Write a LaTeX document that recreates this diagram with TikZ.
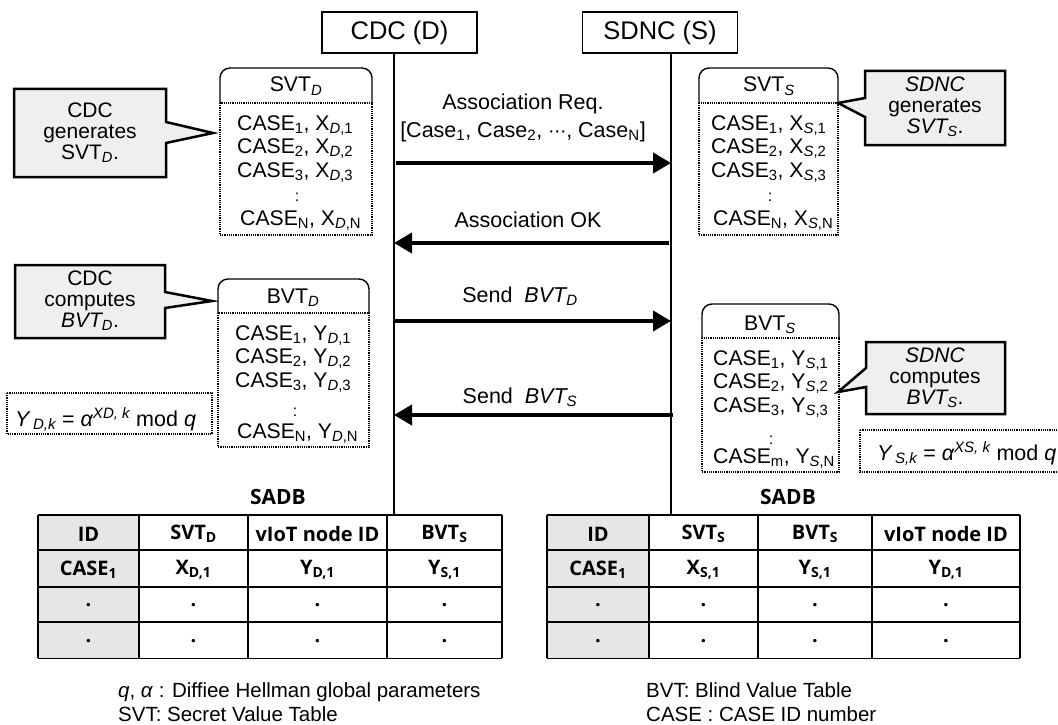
\documentclass[tikz,border=0pt]{standalone}
\usepackage{fontspec}
\setmainfont{Liberation Sans}
\newfontfamily\tabfont{Open Sans}
\newfontfamily\symfont{DejaVu Sans}
\usetikzlibrary{arrows.meta}
\newcommand\mysub[1]{\textsubscript{#1}}
\newcommand\mysup[1]{\textsuperscript{#1}}
\definecolor{callfill}{HTML}{EFEFEF}
\definecolor{tabgray}{HTML}{E6E6E6}
\begin{document}
\begin{tikzpicture}[x=1pt,y=-1pt,
  actor/.style={draw, line width=1.3pt, minimum width=155pt, minimum height=41pt, inner sep=0pt, font=\fontsize{25.5}{27}\selectfont},
  life/.style={line width=1.8pt},
  msg/.style={line width=4pt, -{Triangle[length=18pt,width=20pt]}},
  item/.style={anchor=base west, inner sep=0pt, font=\fontsize{21.2}{22}\selectfont},
  hdr/.style={anchor=base, inner sep=0pt, font=\fontsize{21.2}{22}\selectfont},
  vdots/.style={inner sep=0pt, font=\fontsize{16}{16}\selectfont},
  lbl/.style={anchor=base, inner sep=0pt, font=\fontsize{21.5}{22}\selectfont},
  calltxt/.style={align=center, inner sep=0pt, font=\fontsize{21}{21}\selectfont},
  callout/.style={draw, fill=callfill, line width=2.5pt, line join=miter},
  hdrbox/.style={draw, line width=1.4pt, rounded corners=10pt},
  body/.style={draw, line width=1.2pt, densely dotted},
  formula/.style={anchor=base west, inner sep=0pt, font=\fontsize{21.5}{22}\selectfont},
  tline/.style={line width=2pt},
  tcell/.style={inner sep=0pt, font=\tabfont\bfseries\fontsize{20}{22}\selectfont},
  foot/.style={anchor=base west, inner sep=0pt, font=\fontsize{20.5}{22}\selectfont},
  sadb/.style={inner sep=0pt, font=\tabfont\bfseries\fontsize{21}{22}\selectfont}
]
\useasboundingbox (0,0) rectangle (1058,725);

% actors
\node[actor] (cdc) at (399.5,32.5) {CDC (D)};
\node[actor] (sdnc) at (660,32.5) {SDNC (S)};
\coordinate (dtop) at (394,53);
\coordinate (dbot) at (394,514);
\coordinate (stop) at (671,53);
\coordinate (sbot) at (671,514);
\draw[life] (dtop) -- (dbot);
\draw[life] (stop) -- (sbot);

% messages
\coordinate (m1d) at (396,163); \coordinate (m1s) at (671,163);
\coordinate (m2d) at (394,243); \coordinate (m2s) at (669,243);
\coordinate (m3d) at (394,321); \coordinate (m3s) at (671,321);
\coordinate (m4d) at (394,415); \coordinate (m4s) at (673,415);
\draw[msg] (m1d) -- (m1s);
\draw[msg] (m2s) -- (m2d);
\draw[msg] (m3d) -- (m3s);
\draw[msg] (m4s) -- (m4d);
\node[lbl] (l1a) at (523,110) {Association Req.};
\node[lbl] (l1b) at (523,137) {[Case\mysub{1}, Case\mysub{2}, {\symfont\fontsize{18}{20}\selectfont ⋯}, Case\mysub{N}]};
\node[lbl] (l2) at (528,227) {Association OK};
\node[lbl] (l3) at (520,302) {Send\ \ \textit{BVT\mysub{D}}};
\node[lbl] (l4) at (520,403) {Send\ \ \textit{BVT\mysub{S}}};

% SVT_D table
\draw[hdrbox] (220,103) -- (220,68) -- (372,68) -- (372,103);
\draw[body] (220,103) rectangle (372,235);
\node[hdr] (svtdh) at (296,92) {SVT\mysub{\textit{D}}};
\node[item] (svtd1) at (237,130) {CASE\mysub{1}, X\mysub{\textit{D},1}};
\node[item] (svtd2) at (237,153) {CASE\mysub{2}, X\mysub{\textit{D},2}};
\node[item] (svtd3) at (237,177) {CASE\mysub{3}, X\mysub{\textit{D},3}};
\node[vdots] (svtdv) at (297,197) {:};
\node[item] (svtdn) at (240,225) {CASE\mysub{N}, X\mysub{\textit{D},N}};

% SVT_S table
\draw[hdrbox] (699,103) -- (699,68) -- (838,68) -- (838,103);
\draw[body] (699,103) rectangle (838,235);
\node[hdr] (svtsh) at (769,92) {SVT\mysub{\textit{S}}};
\node[item] (svts1) at (711,130) {CASE\mysub{1}, X\mysub{\textit{S},1}};
\node[item] (svts2) at (711,153) {CASE\mysub{2}, X\mysub{\textit{S},2}};
\node[item] (svts3) at (711,177) {CASE\mysub{3}, X\mysub{\textit{S},3}};
\node[vdots] (svtsv) at (770,197) {:};
\node[item] (svtsn) at (713,225) {CASE\mysub{N}, X\mysub{\textit{S},N}};

% BVT_D table
\draw[hdrbox] (218,313) -- (218,279) -- (369,279) -- (369,313);
\draw[body] (218,313) rectangle (369,447);
\node[hdr] (bvtdh) at (293,303) {BVT\mysub{\textit{D}}};
\node[item] (bvtd1) at (235,340) {CASE\mysub{1}, Y\mysub{\textit{D},1}};
\node[item] (bvtd2) at (235,363) {CASE\mysub{2}, Y\mysub{\textit{D},2}};
\node[item] (bvtd3) at (235,387) {CASE\mysub{3}, Y\mysub{\textit{D},3}};
\node[vdots] (bvtdv) at (295,412) {:};
\node[item] (bvtdn) at (237,438) {CASE\mysub{N}, Y\mysub{\textit{D},N}};

% BVT_S table
\draw[hdrbox] (702,338) -- (702,304) -- (839,304) -- (839,338);
\draw[body] (702,338) rectangle (839,472);
\node[hdr] (bvtsh) at (770,330) {BVT\mysub{\textit{S}}};
\node[item] (bvts1) at (713,365) {CASE\mysub{1}, Y\mysub{\textit{S},1}};
\node[item] (bvts2) at (713,388) {CASE\mysub{2}, Y\mysub{\textit{S},2}};
\node[item] (bvts3) at (713,412) {CASE\mysub{3}, Y\mysub{\textit{S},3}};
\node[vdots] (bvtsv) at (771,440) {:};
\node[item] (bvtsn) at (713,463) {CASE\mysub{m}, Y\mysub{\textit{S},N}};

% callouts
\draw[callout] (14,89) -- (166,89) -- (166,122) -- (213,133) -- (166,143) -- (166,177) -- (14,177) -- cycle;
\node[calltxt] (c1) at (90,133) {CDC\\generates\\SVT\mysub{\textit{D}}.};
\draw[callout] (15,265) -- (165,265) -- (165,292) -- (212,301) -- (165,308) -- (165,338) -- (15,338) -- cycle;
\node[calltxt] (c2) at (90,301) {CDC\\computes\\\textit{BVT\mysub{D}}.};
\draw[callout] (865,71) -- (1005,71) -- (1005,145) -- (865,145) -- (865,117) -- (838,103) -- (865,98) -- cycle;
\node[calltxt] (c3) at (935,107) {\textit{SDNC}\\generates\\\textit{SVT\mysub{S}}.};
\draw[callout] (866,342) -- (1005,342) -- (1005,414) -- (866,414) -- (866,387) -- (838,392) -- (866,368) -- cycle;
\node[calltxt] (c4) at (935,378) {\textit{SDNC}\\computes\\\textit{BVT\mysub{S}}.};

% formulas
\draw[body] (7,393) rectangle (212,434);
\node[formula] (fd) at (15,426) {\textit{Y\,\mysub{D,k}} = \textit{α\mysup{XD, k}} mod \textit{q}};
\draw[body] (860,430) rectangle (1064,472);
\node[formula] (fs) at (877,460) {\textit{Y\,\mysub{S,k}} = \textit{α\mysup{XS, k}} mod \textit{q}};

% SADB tables
\node[sadb] (sadbl) at (278,497) {SADB};
\node[sadb] (sadbr) at (788,497) {SADB};

\fill[tabgray] (38,515) rectangle (139,658);
\foreach \y in {515,550,587,622} \draw[tline] (38,\y) -- (502,\y);
\draw[line width=1pt] (38,658) -- (502,658);
\foreach \x in {38,139,248,387,502} \draw[tline] (\x,515) -- (\x,658);
\node[tcell] (ta1) at (88.5,534) {ID};
\node[tcell] (ta2) at (193.5,534) {SVT\textsubscript{D}};
\node[tcell] (ta3) at (317.5,534) {vIoT\ node\ ID};
\node[tcell] (ta4) at (444.5,534) {BVT\textsubscript{S}};
\node[tcell] (tb1) at (88.5,570) {CASE\textsubscript{1}};
\node[tcell] (tb2) at (193.5,570) {X\textsubscript{D,1}};
\node[tcell] (tb3) at (317.5,570) {Y\textsubscript{D,1}};
\node[tcell] (tb4) at (444.5,570) {Y\textsubscript{S,1}};
\foreach \x/\n in {88.5/1,193.5/2,317.5/3,444.5/4}{
  \node[tcell] (tc\n) at (\x,605) {.};
  \node[tcell] (td\n) at (\x,641) {.};
}

\fill[tabgray] (547,515) rectangle (649,658);
\foreach \y in {515,550,587,622} \draw[tline] (547,\y) -- (1020,\y);
\draw[line width=1pt] (547,658) -- (1020,658);
\foreach \x in {547,649,758,872,1020} \draw[tline] (\x,515) -- (\x,658);
\node[tcell] (ra1) at (598,534) {ID};
\node[tcell] (ra2) at (703.5,534) {SVT\textsubscript{S}};
\node[tcell] (ra3) at (815,534) {BVT\textsubscript{S}};
\node[tcell] (ra4) at (946,534) {vIoT\ node\ ID};
\node[tcell] (rb1) at (598,570) {CASE\textsubscript{1}};
\node[tcell] (rb2) at (703.5,570) {X\textsubscript{S,1}};
\node[tcell] (rb3) at (815,570) {Y\textsubscript{S,1}};
\node[tcell] (rb4) at (946,570) {Y\textsubscript{D,1}};
\foreach \x/\n in {598/1,703.5/2,815/3,946/4}{
  \node[tcell] (rc\n) at (\x,605) {.};
  \node[tcell] (rd\n) at (\x,641) {.};
}

% footnotes
\node[foot] (f1) at (118,697) {\textit{q}, \textit{α} : Diffiee Hellman global parameters};
\node[foot] (f2) at (118,721) {SVT: Secret Value Table};
\node[foot] (f3) at (646,697) {BVT: Blind Value Table};
\node[foot] (f4) at (646,721) {CASE : CASE ID number};
\end{tikzpicture}
\end{document}
